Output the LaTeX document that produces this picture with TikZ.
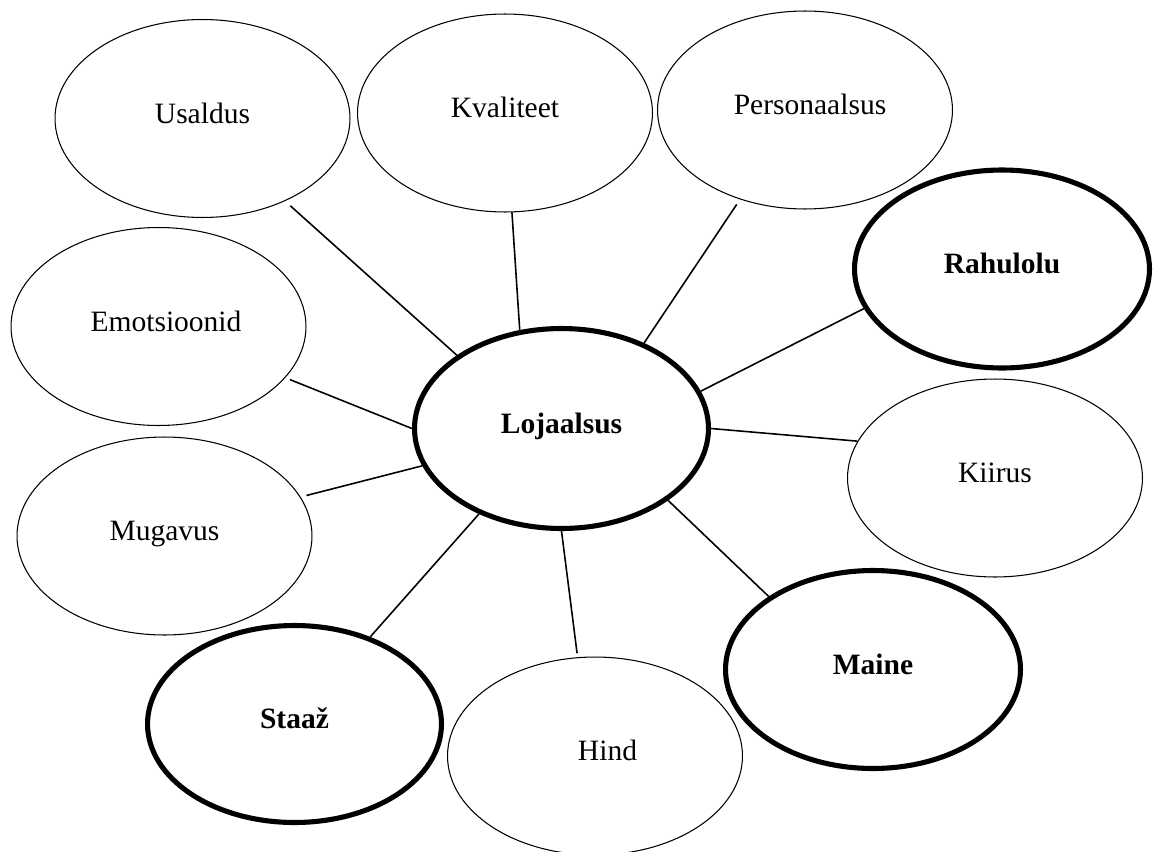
\documentclass[tikz,border=0pt]{standalone}
\usepackage{fontspec}
\setmainfont{Liberation Serif}
\usetikzlibrary{shapes.geometric}
% shifts a label to the right inside its bubble
\newcommand\labelnudge[1]{\hspace*{#1}}
\begin{document}
\begin{tikzpicture}[x=0.02cm,y=-0.02cm,
  bubble/.style={ellipse, draw, line width=0.6pt,
    minimum width=5.9cm, minimum height=3.96cm, inner sep=0pt,
    text height=11.8pt, text depth=6.6pt,
    font=\fontsize{16.8}{19.5}\selectfont},
  keybubble/.style={bubble, line width=2.9pt,
    font=\fontsize{16.8}{19.5}\selectfont\bfseries},
  link/.style={line width=0.9pt}]
\useasboundingbox (0,0) rectangle (1153,852);

% centre concept
\node[keybubble, minimum width=5.88cm, minimum height=4.0cm] (loj) at (561.5,428.5) {Lojaalsus};

% surrounding factors
\node[bubble] (usaldus) at (202.5,118.5) {Usaldus};
\node[bubble] (kval) at (505,113) {Kvaliteet};
\node[bubble] (pers) at (805,110) {\labelnudge{0.2cm}Personaalsus};
\node[keybubble] (rahu) at (1002,269) {Rahulolu};
\node[bubble] (emo) at (158.5,326.5) {\labelnudge{0.3cm}Emotsioonid};
\node[bubble] (kiir) at (995,478) {Kiirus};
\node[bubble] (mug) at (164.5,536) {Mugavus};
\node[keybubble] (maine) at (873,669.5) {Maine};
\node[keybubble, minimum width=5.88cm, minimum height=3.94cm] (staaz) at (294.5,724) {Staaž};
\node[bubble] (hind) at (595,756) {\labelnudge{0.5cm}Hind};

% spokes
\draw[link, shorten <=0.14cm] (usaldus.-45) -- (loj.145.4);
\draw[link] (kval.-86) -- (loj.113.3);
\draw[link, shorten <=0.12cm] (pers.-126.3) -- (loj.46);
\draw[link] (rahu.-164.8) -- (loj.15.9);
\draw[link] (kiir.165.4) -- (loj.0);
\draw[link] (maine.145.8) -- (loj.-34.9);
\draw[link, shorten <=0.08cm] (hind.100.5) -- (loj.-90);
\draw[link] (staaz.49.3) -- (loj.-134.3);
\draw[link, shorten <=0.12cm] (mug.16.8) -- (loj.-165.9);
\draw[link, shorten <=0.1cm] (emo.-22.1) -- (loj.180);
\end{tikzpicture}
\end{document}
